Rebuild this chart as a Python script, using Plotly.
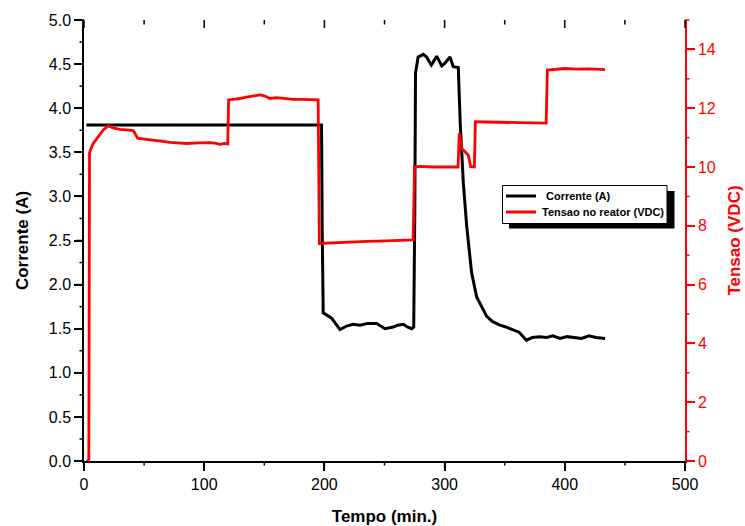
import plotly.graph_objects as go

# Corrente (A) - black series
t_cur = [2, 197.6, 198.2, 199, 206, 213, 218.5, 224, 229.6, 236, 243.5, 247, 250.4,
         257.3, 261, 265.6, 269, 272.6, 274.3, 275.2, 275.8, 278, 282.3, 285, 289,
         293.4, 297.6, 300.3, 304.5, 307.2, 311.4, 313, 315.6, 318.4, 322.5, 326.7,
         331, 335, 340, 346, 351, 357, 362, 368, 373, 379, 385, 390, 396, 402, 408,
         414, 420, 426, 433.5]
cur = [3.81, 3.81, 2.6, 1.68, 1.62, 1.49, 1.53, 1.55, 1.54, 1.56, 1.56, 1.53, 1.50,
       1.52, 1.54, 1.55, 1.52, 1.50, 1.52, 2.8, 4.40, 4.58, 4.61, 4.58, 4.49,
       4.59, 4.48, 4.51, 4.58, 4.47, 4.46, 3.83, 3.15, 2.66, 2.13, 1.86,
       1.74, 1.64, 1.58, 1.54, 1.52, 1.49, 1.46, 1.37, 1.40, 1.41, 1.40, 1.42, 1.39, 1.41, 1.40,
       1.39, 1.42, 1.40, 1.39]

# Tensao no reator (VDC) - red series
t_v = [2, 4.0, 4.6, 5.5, 7.7, 11.9, 16, 20.2, 25, 30, 36, 41, 43, 44.5, 50, 57.7, 64,
       71.5, 78, 85.4, 95, 104.8, 110, 113, 117, 119.6, 120.3, 125, 129.8, 135, 140,
       146.4, 150, 154.7, 160, 167, 174, 181, 188, 194.8, 195.8, 205, 215, 225, 235,
       245, 255, 265, 273.8, 275.0, 280, 290, 300, 311.2, 312.2, 314.2, 319.7, 321.7,
       324.8, 325.6, 335, 345, 355, 365, 375, 384.5, 385.5, 392, 400, 410, 420, 433.5]
volts = [0, 0, 10.47, 10.6, 10.8, 11.03, 11.26, 11.4, 11.32, 11.28, 11.25, 11.24, 11.1,
         10.98, 10.95, 10.92, 10.88, 10.84, 10.82, 10.8, 10.82, 10.83, 10.8, 10.77,
         10.8, 10.78, 12.28, 12.3, 12.33, 12.38, 12.42, 12.45, 12.42, 12.33, 12.36,
         12.33, 12.3, 12.3, 12.29, 12.28, 7.40, 7.42, 7.44, 7.46, 7.47, 7.48, 7.49,
         7.50, 7.52, 10.01, 10.02, 10.0, 10.01, 10.0, 11.15, 10.63, 10.41, 10.01,
         10.0, 11.54, 11.53, 11.52, 11.52, 11.51, 11.50, 11.49, 13.30, 13.32, 13.35,
         13.33, 13.34, 13.31]

series_names = ["Corrente (A)", "Tensao no reator (VDC)"]
series_colors = ["black", "#ff0000"]

# axis ranges and tick values
x_range = [0, 500]
y_range = [0, 5]
y2_range = [0, 15]
x_major = [0, 100, 200, 300, 400, 500]
x_minor = [50, 150, 250, 350, 450]
y_major = [0, 0.5, 1.0, 1.5, 2.0, 2.5, 3.0, 3.5, 4.0, 4.5, 5.0]
y_minor = [0.25, 0.75, 1.25, 1.75, 2.25, 2.75, 3.25, 3.75, 4.25, 4.75]
y2_major = [0, 2, 4, 6, 8, 10, 12, 14]
y2_minor = [1, 3, 5, 7, 9, 11, 13, 15]

FONT = "Liberation Sans, Arial, sans-serif"

fig = go.Figure()
fig.add_trace(go.Scatter(x=t_cur, y=cur, mode="lines", name=series_names[0],
                         line=dict(color=series_colors[0], width=3), yaxis="y"))
fig.add_trace(go.Scatter(x=t_v, y=volts, mode="lines", name=series_names[1],
                         line=dict(color=series_colors[1], width=2.8), yaxis="y2"))

L, R, T, B = 84, 60, 20, 65
W, H = 745, 526
pw, ph = W - L - R, H - T - B
TL, ML, TW = 8, 4.5, 1.5


def px(xp):
    return (xp - L) / pw


def py(yp):
    return (H - B - yp) / ph


def frac(v, rng):
    return (v - rng[0]) / (rng[1] - rng[0])


shapes = []


def tick_shapes(vals, side, length, color):
    # ticks as paper-referenced lines so they are not clipped to the plot area
    for v in vals:
        if side == "bottom":
            f = frac(v, x_range)
            d = dict(x0=f, x1=f, y0=0, y1=-length / ph)
        elif side == "top":
            f = frac(v, x_range)
            d = dict(x0=f, x1=f, y0=1, y1=1 - length / ph)
        elif side == "left":
            f = frac(v, y_range)
            d = dict(x0=0, x1=-length / pw, y0=f, y1=f)
        else:
            f = frac(v, y2_range)
            d = dict(x0=1, x1=1 + length / pw, y0=f, y1=f)
        d.update(type="line", xref="paper", yref="paper",
                 line=dict(color=color, width=TW), layer="above")
        shapes.append(d)


tick_shapes(x_major, "bottom", TL, "black")
tick_shapes(x_minor, "bottom", ML, "black")
tick_shapes(x_major, "top", TL, "black")
tick_shapes(x_minor, "top", ML, "black")
tick_shapes(y_major, "left", TL, "black")
tick_shapes(y_minor, "left", ML, "black")
tick_shapes(y2_major, "right", TL, "#ff0000")
tick_shapes(y2_minor, "right", ML, "#ff0000")

# legend box drawn Origin-style (with drop shadow)
shapes += [
    dict(type="rect", xref="paper", yref="paper", x0=px(509), x1=px(674.5),
         y0=py(228.5), y1=py(191), fillcolor="black", line=dict(width=0), layer="above"),
    dict(type="rect", xref="paper", yref="paper", x0=px(502.5), x1=px(667),
         y0=py(223.5), y1=py(185.5), fillcolor="white",
         line=dict(color="black", width=1), layer="above"),
]
annotations = []
for i, (nm, colr) in enumerate(zip(series_names, series_colors)):
    yy = 196 + 16 * i
    shapes.append(dict(type="line", xref="paper", yref="paper", x0=px(506), x1=px(536),
                       y0=py(yy), y1=py(yy), line=dict(color=colr, width=3), layer="above"))
    annotations.append(dict(text="<b>%s</b>" % nm, xref="paper", yref="paper",
                            x=px(544 if i == 0 else 540), y=py(yy), xanchor="left",
                            yanchor="middle", showarrow=False,
                            font=dict(size=11, color="black", family=FONT)))

fig.update_layout(
    width=W, height=H,
    margin=dict(l=L, r=R, t=T, b=B, autoexpand=False),
    paper_bgcolor="white", plot_bgcolor="white",
    font=dict(family=FONT, size=16, color="black"),
    showlegend=False,
    xaxis=dict(range=x_range, tickmode="array", tickvals=x_major, ticks="outside", ticklen=TL,
               tickwidth=TW, tickcolor="black", showline=True, linecolor="black", linewidth=1.5,
               showgrid=False, zeroline=False, automargin=False,
               title=dict(text="<b>Tempo (min.)</b>", font=dict(size=17), standoff=18),
               tickfont=dict(size=16)),
    xaxis2=dict(range=x_range, overlaying="x", side="top", anchor="y",
                showline=True, linecolor="black", linewidth=1.5, showgrid=False,
                zeroline=False, showticklabels=False, ticks="", automargin=False),
    yaxis=dict(range=y_range, tickmode="array", tickvals=y_major, tickformat=".1f", ticks="outside",
               ticklen=TL, tickwidth=TW, tickcolor="black", showline=True, linecolor="black",
               linewidth=1.5, showgrid=False, zeroline=False, automargin=False,
               title=dict(text="<b>Corrente (A)</b>", font=dict(size=17), standoff=16),
               tickfont=dict(size=16)),
    yaxis2=dict(range=y2_range, tickmode="array", tickvals=y2_major, overlaying="y", side="right",
                ticks="outside", ticklen=TL, tickwidth=TW, tickcolor="#ff0000",
                showline=True, linecolor="#ff0000", linewidth=1.5, showgrid=False,
                zeroline=False, automargin=False,
                tickfont=dict(size=16, color="#ff0000"),
                title=dict(text="<b>Tensao (VDC)</b>", font=dict(size=17, color="#ff0000"), standoff=13)),
    shapes=shapes,
    annotations=annotations,
)

fig.write_html("out.html")
